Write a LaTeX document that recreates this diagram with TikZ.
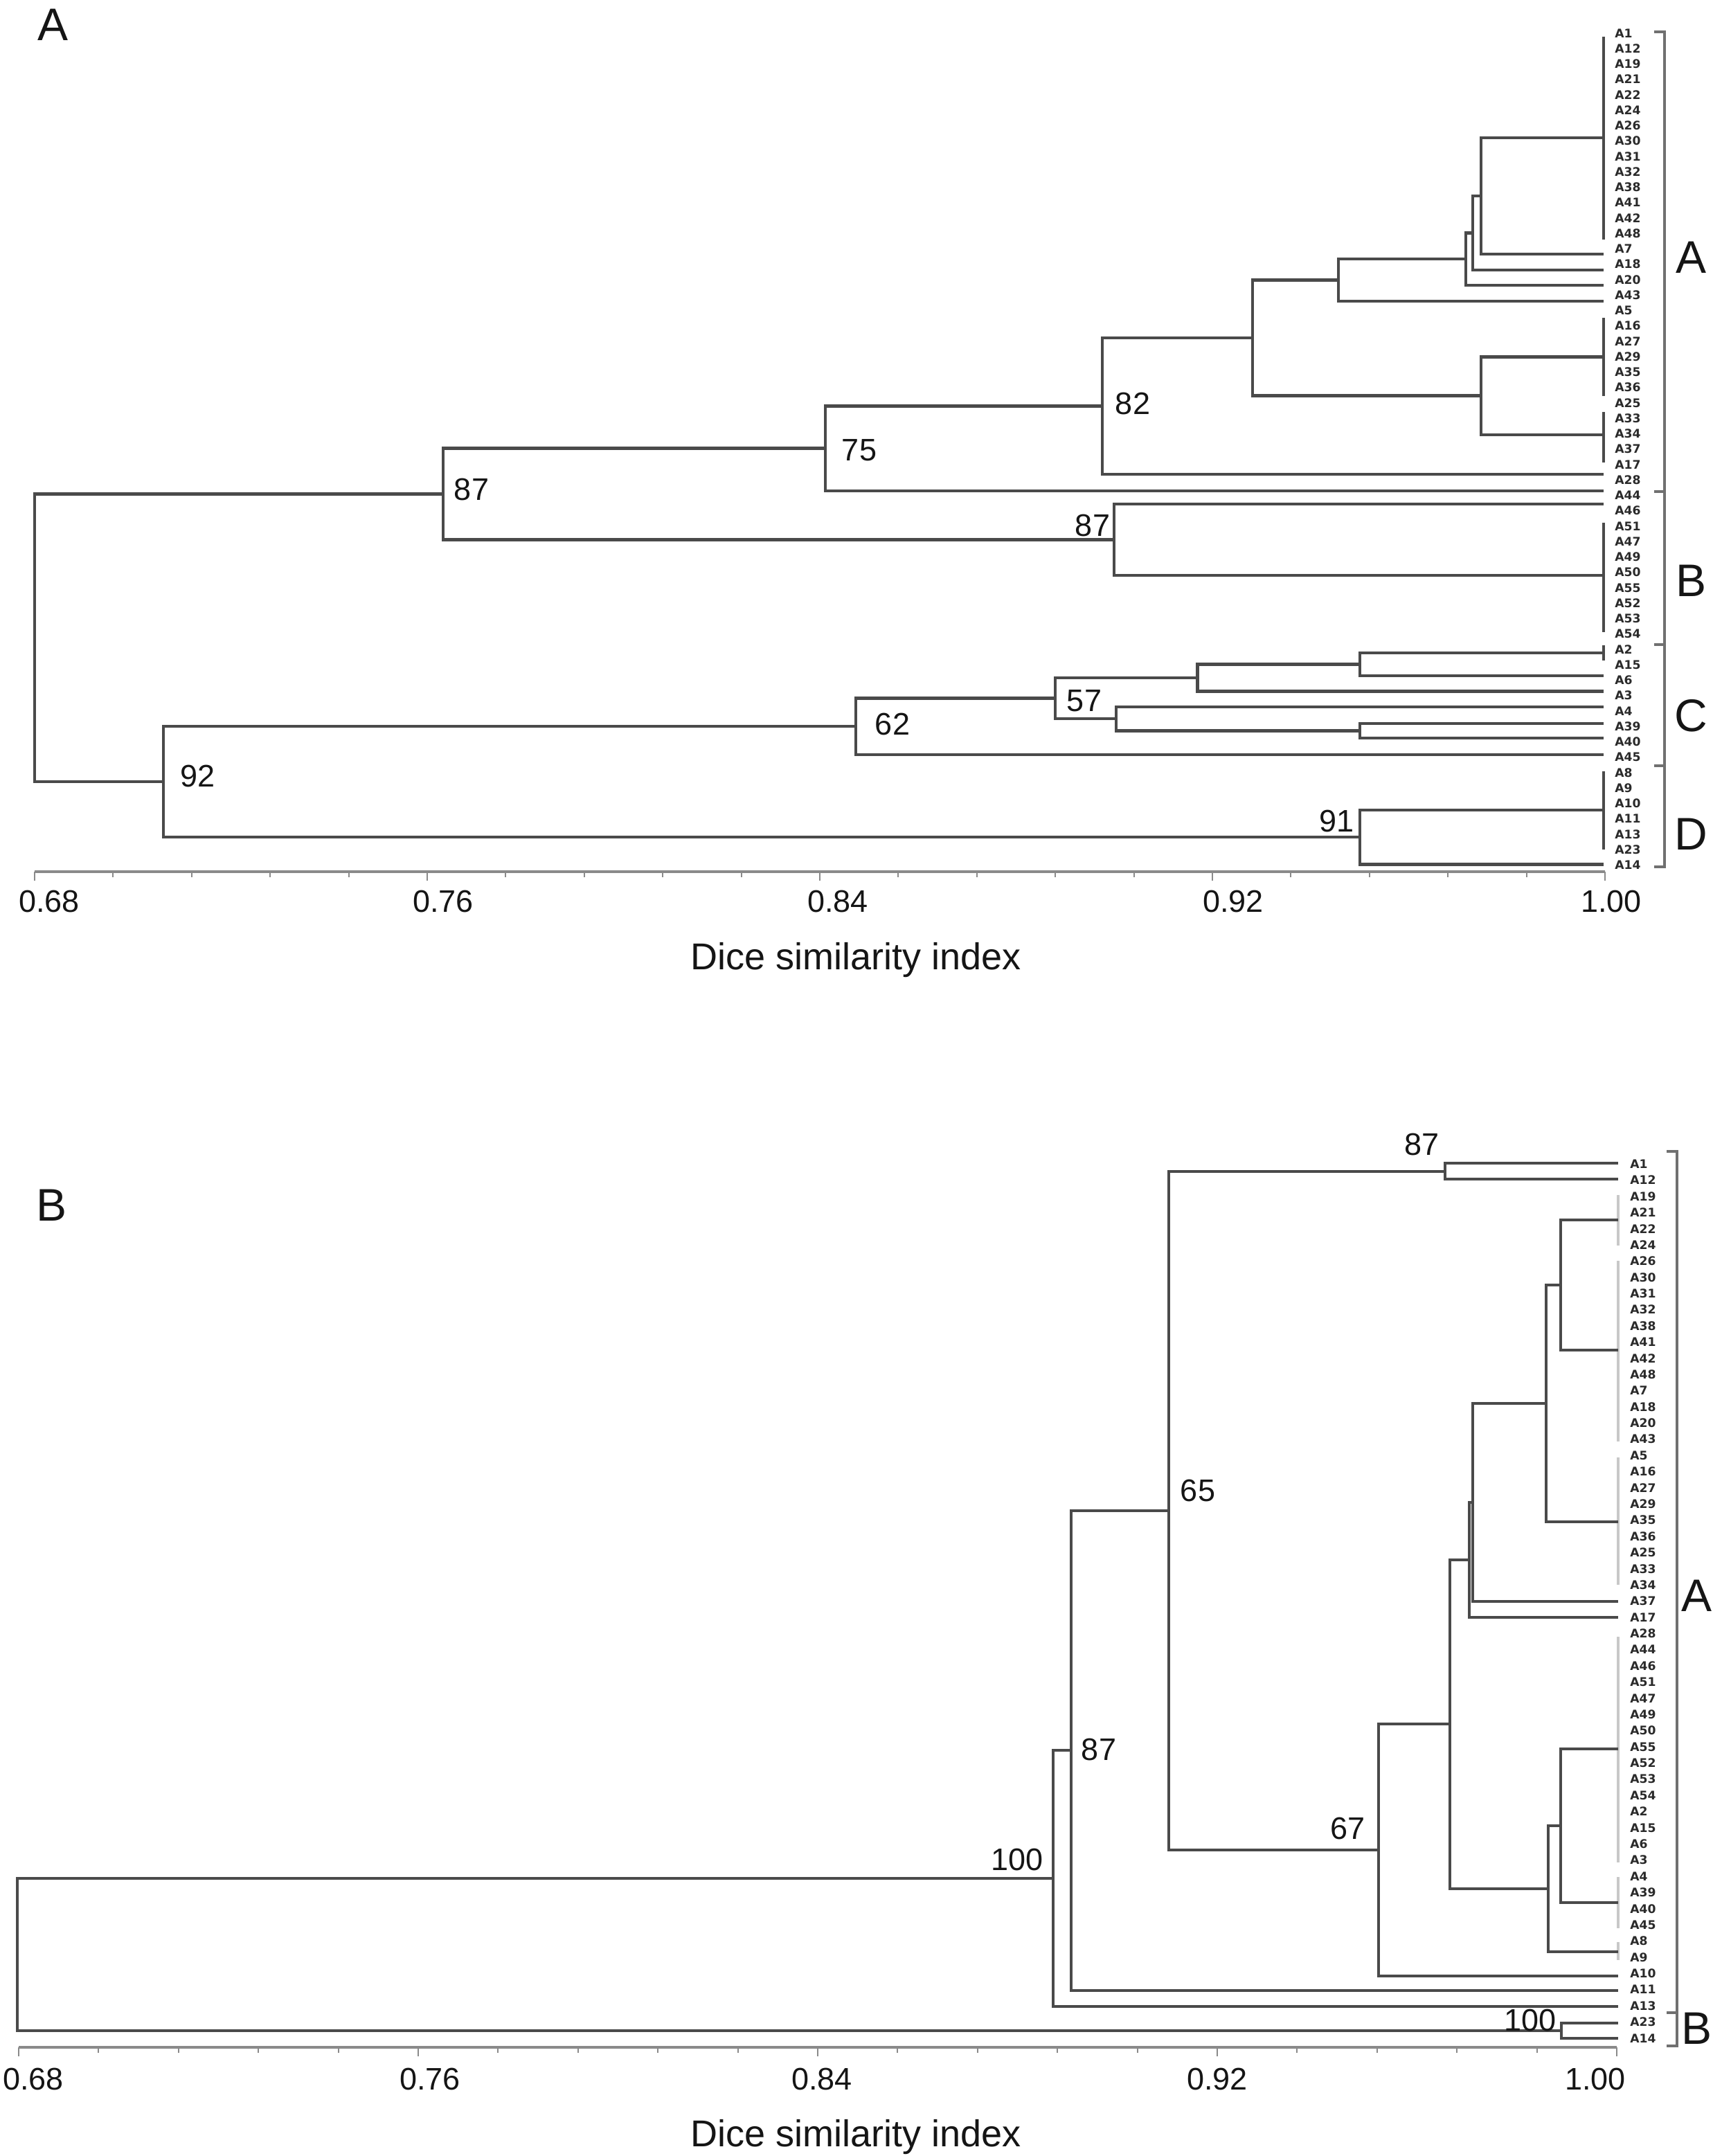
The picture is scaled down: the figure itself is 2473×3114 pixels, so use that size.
\documentclass[tikz,border=0pt]{standalone}
\usepackage{fontspec}
\setmainfont{Liberation Sans}
\newfontfamily\leaffont{DejaVu Sans}
\definecolor{treec}{HTML}{4A4A4A}
\definecolor{axisc}{HTML}{8A8A8A}
\definecolor{brc}{HTML}{707070}
\definecolor{greybar}{HTML}{C8C8C8}
\definecolor{leafc}{HTML}{2A2A2A}
\definecolor{txtc}{HTML}{151515}
\newcommand\treejoin[4]{\draw[#1] (#3) -| (#2) |- (#4);}
\tikzset{
  treet/.style={draw=treec, line width=2.4pt, line join=miter},
  treeb/.style={draw=treec, line width=2pt, line join=miter},
  gbar/.style={draw=greybar, line width=1.7pt},
  axisl/.style={draw=axisc, line width=1.8pt},
  tickl/.style={draw=axisc, line width=1pt},
  brack/.style={draw=brc, line width=1.6pt},
  leaf/.style={anchor=base west, inner sep=0pt, text=leafc, font=\leaffont\bfseries\fontsize{8.6}{10}\selectfont},
  num/.style={anchor=base, inner sep=0pt, text=txtc, font=\fontsize{22.5}{26}\selectfont},
  ticklab/.style={anchor=base, inner sep=0pt, text=txtc, font=\fontsize{22.5}{26}\selectfont},
  axtitle/.style={anchor=base, inner sep=0pt, text=txtc, font=\fontsize{27}{30}\selectfont},
  biglet/.style={anchor=base, inner sep=0pt, text=txtc, font=\fontsize{33}{36}\selectfont}
}
\begin{document}
\begin{tikzpicture}[x=0.5pt, y=-0.5pt]
\useasboundingbox (0,0) rectangle (2473,3114);
\fill[white] (0,0) rectangle (2473,3114);

% ================= PANEL A =================
\node[biglet] (pA) at (77,59) {A};

% leaf bars
\draw[treet] (2316,53) -- (2316,346);
\draw[treet] (2316,459) -- (2316,572);
\draw[treet] (2316,595) -- (2316,668);
\draw[treet] (2316,755) -- (2316,913);
\draw[treet] (2316,932) -- (2316,954);
\draw[treet] (2316,1114) -- (2316,1227);

% leaf anchor coordinates
\coordinate (tB1) at (2316,199);
\coordinate (tA7) at (2316,367);
\coordinate (tA18) at (2316,390);
\coordinate (tA20) at (2316,412);
\coordinate (tA43) at (2316,435);
\coordinate (tB2) at (2316,515.5);
\coordinate (tB3) at (2316,628);
\coordinate (tA28) at (2316,685);
\coordinate (tA44) at (2316,709);
\coordinate (tA46) at (2316,728);
\coordinate (tBB) at (2316,831);
\coordinate (tC1) at (2316,943);
\coordinate (tA6) at (2316,976);
\coordinate (tA3) at (2316,998.5);
\coordinate (tA4) at (2316,1021);
\coordinate (tA39) at (2316,1045);
\coordinate (tA40) at (2316,1066);
\coordinate (tA45) at (2316,1090);
\coordinate (tBD) at (2316,1170);
\coordinate (tA14) at (2316,1248.5);

% internal nodes
\coordinate (na) at (2139,283);
\coordinate (nb) at (2127,336.5);
\coordinate (nc) at (2117,374);
\coordinate (nd) at (1933,404.5);
\coordinate (ng) at (2139,571.75);
\coordinate (ne) at (1809,488);
\coordinate (nf) at (1592,586.5);
\coordinate (n75) at (1192,647.75);
\coordinate (nB87) at (1609,779.5);
\coordinate (n87) at (640,713.6);
\coordinate (ni) at (1964,959.5);
\coordinate (nh) at (1729.5,979);
\coordinate (nk) at (1964,1055.5);
\coordinate (nj) at (1612,1038);
\coordinate (n57) at (1524,1008.5);
\coordinate (n62) at (1236,1049);
\coordinate (n91) at (1964,1209);
\coordinate (n92) at (236,1129);
\coordinate (nroot) at (50,921);

\treejoin{treet}{na}{tB1}{tA7}
\treejoin{treet}{nb}{na}{tA18}
\treejoin{treet}{nc}{nb}{tA20}
\treejoin{treet}{nd}{nc}{tA43}
\treejoin{treet}{ng}{tB2}{tB3}
\treejoin{treet}{ne}{nd}{ng}
\treejoin{treet}{nf}{ne}{tA28}
\treejoin{treet}{n75}{nf}{tA44}
\treejoin{treet}{nB87}{tA46}{tBB}
\treejoin{treet}{n87}{n75}{nB87}
\treejoin{treet}{ni}{tC1}{tA6}
\treejoin{treet}{nh}{ni}{tA3}
\treejoin{treet}{nk}{tA39}{tA40}
\treejoin{treet}{nj}{tA4}{nk}
\treejoin{treet}{n57}{nh}{nj}
\treejoin{treet}{n62}{n57}{tA45}
\treejoin{treet}{n91}{tBD}{tA14}
\treejoin{treet}{n92}{n62}{n91}
\treejoin{treet}{nroot}{n87}{n92}

% node values
\node[num] (v87a) at (681,722) {87};
\node[num] (v75) at (1241,665) {75};
\node[num] (v82) at (1636,598) {82};
\node[num] (v87b) at (1578,774) {87};
\node[num] (v92) at (286,1136) {92};
\node[num] (v62) at (1289,1061) {62};
\node[num] (v57) at (1566,1027) {57};
\node[num] (v91) at (1930,1201) {91};

% leaf labels
\foreach \n [count=\i] in {A1,A12,A19,A21,A22,A24,A26,A30,A31,A32,A38,A41,A42,A48,A7,A18,A20,A43,A5,A16,A27,A29,A35,A36,A25,A33,A34,A37,A17,A28,A44,A46,A51,A47,A49,A50,A55,A52,A53,A54,A2,A15,A6,A3,A4,A39,A40,A45,A8,A9,A10,A11,A13,A23,A14}
  \node[leaf] (tl\i) at (2332,{54.2+22.25*(\i-1)}) {\n};

% group bracket
\draw[brack] (2389,46) -- (2404,46) -- (2404,1252) -- (2389,1252);
\draw[brack] (2389,710) -- (2404,710);
\draw[brack] (2389,931) -- (2404,931);
\draw[brack] (2389,1106) -- (2404,1106);
\node[biglet] (gA) at (2442,394) {A};
\node[biglet] (gB) at (2442,861) {B};
\node[biglet] (gC) at (2442,1056) {C};
\node[biglet] (gD) at (2442,1227) {D};

% axis
\draw[axisl] (50,1259) -- (2318,1259);
\foreach \k in {0,...,20} {
  \pgfmathsetmacro\tl{ifthenelse(mod(\k,5)==0,13,8)}
  \draw[tickl] ({50+113.4*\k},1259) -- ++(0,\tl);
}
\node[ticklab] (ta1) at (71,1317) {0.68};
\node[ticklab] (ta2) at (640,1317) {0.76};
\node[ticklab] (ta3) at (1210,1317) {0.84};
\node[ticklab] (ta4) at (1781,1317) {0.92};
\node[ticklab] (ta5) at (2327,1317) {1.00};
\node[axtitle] (xa) at (1236,1400) {Dice similarity index};

% ================= PANEL B =================
\node[biglet] (pB) at (75,1763) {B};

% grey leaf bars
\draw[gbar] (2337,1726) -- (2337,1799);
\draw[gbar] (2337,1821) -- (2337,2082);
\draw[gbar] (2337,2105) -- (2337,2289);
\draw[gbar] (2337,2364) -- (2337,2690);
\draw[gbar] (2337,2711) -- (2337,2785);
\draw[gbar] (2337,2805) -- (2337,2831);

\coordinate (bA1) at (2337,1680);
\coordinate (bA12) at (2337,1703);
\coordinate (bG1) at (2337,1762);
\coordinate (bG2) at (2337,1950);
\coordinate (bG3) at (2337,2198);
\coordinate (bA37) at (2337,2312.5);
\coordinate (bA17) at (2337,2336);
\coordinate (bG4) at (2337,2526);
\coordinate (bG5) at (2337,2747.5);
\coordinate (bG6) at (2337,2819);
\coordinate (bA10) at (2337,2854);
\coordinate (bA11) at (2337,2875);
\coordinate (bA13) at (2337,2898);
\coordinate (bA23) at (2337,2922);
\coordinate (bA14) at (2337,2943.5);

\coordinate (m87t) at (2087,1691.5);
\coordinate (mp) at (2253.5,1856);
\coordinate (mq) at (2233,2027);
\coordinate (mr) at (2127,2169.75);
\coordinate (ms) at (2122,2252.9);
\coordinate (mv) at (2254,2636.75);
\coordinate (mu) at (2236,2727.9);
\coordinate (mt) at (2094,2490.4);
\coordinate (mw) at (1991,2672.2);
\coordinate (m65) at (1688,2181.9);
\coordinate (m87m) at (1547,2528.4);
\coordinate (m100t) at (1521,2713.2);
\coordinate (m100b) at (2255,2932.75);
\coordinate (mroot) at (25,2823);

\treejoin{treeb}{m87t}{bA1}{bA12}
\treejoin{treeb}{mp}{bG1}{bG2}
\treejoin{treeb}{mq}{mp}{bG3}
\treejoin{treeb}{mr}{mq}{bA37}
\treejoin{treeb}{ms}{mr}{bA17}
\treejoin{treeb}{mv}{bG4}{bG5}
\treejoin{treeb}{mu}{mv}{bG6}
\treejoin{treeb}{mt}{ms}{mu}
\treejoin{treeb}{mw}{mt}{bA10}
\treejoin{treeb}{m65}{m87t}{mw}
\treejoin{treeb}{m87m}{m65}{bA11}
\treejoin{treeb}{m100t}{m87m}{bA13}
\treejoin{treeb}{m100b}{bA23}{bA14}
\treejoin{treeb}{mroot}{m100t}{m100b}

\node[num] (w87t) at (2053,1668) {87};
\node[num] (w65) at (1730,2168) {65};
\node[num] (w87m) at (1587,2542) {87};
\node[num] (w100t) at (1469,2701) {100};
\node[num] (w67) at (1946,2656) {67};
\node[num] (w100b) at (2210,2933) {100};

\foreach \n [count=\i] in {A1,A12,A19,A21,A22,A24,A26,A30,A31,A32,A38,A41,A42,A48,A7,A18,A20,A43,A5,A16,A27,A29,A35,A36,A25,A33,A34,A37,A17,A28,A44,A46,A51,A47,A49,A50,A55,A52,A53,A54,A2,A15,A6,A3,A4,A39,A40,A45,A8,A9,A10,A11,A13,A23,A14}
  \node[leaf] (bl\i) at (2354,{1687.5+23.38*(\i-1)}) {\n};

\draw[brack] (2407,1663) -- (2422,1663) -- (2422,2955) -- (2407,2955);
\draw[brack] (2407,2907) -- (2422,2907);
\node[biglet] (hA) at (2450,2327) {A};
\node[biglet] (hB) at (2450,2952) {B};

\draw[axisl] (27,2957) -- (2335,2957);
\foreach \k in {0,...,20} {
  \pgfmathsetmacro\tl{ifthenelse(mod(\k,5)==0,13,8)}
  \draw[tickl] ({27+115.4*\k},2957) -- ++(0,\tl);
}
\node[ticklab] (tb1) at (48,3018) {0.68};
\node[ticklab] (tb2) at (621,3018) {0.76};
\node[ticklab] (tb3) at (1187,3018) {0.84};
\node[ticklab] (tb4) at (1758,3018) {0.92};
\node[ticklab] (tb5) at (2304,3018) {1.00};
\node[axtitle] (xb) at (1236,3100) {Dice similarity index};
\end{tikzpicture}
\end{document}
